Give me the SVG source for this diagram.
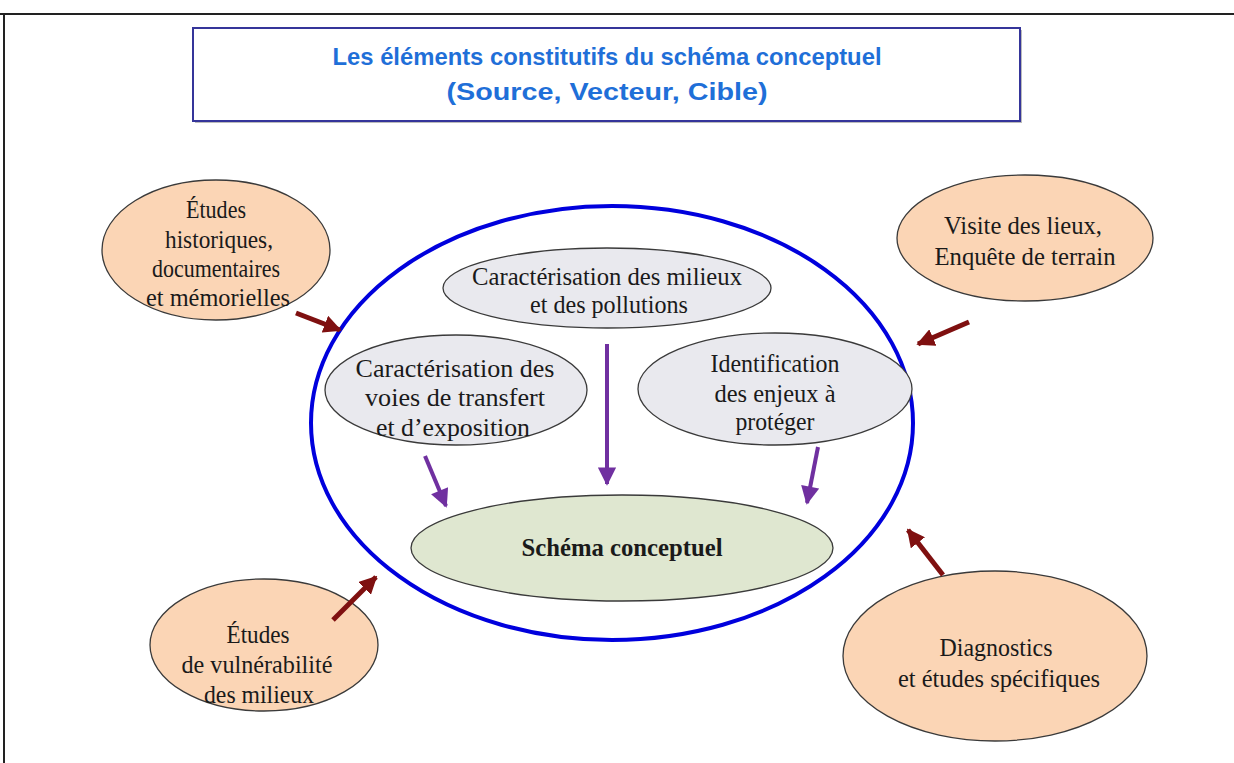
<svg xmlns="http://www.w3.org/2000/svg" width="1234" height="763" viewBox="0 0 1234 763">
<style>
.t{font-family:"Liberation Serif","Times New Roman",serif;font-size:25px;fill:#1a1a1a;text-anchor:middle}
.peach{fill:#fbd5b5;stroke:#3a3a3a;stroke-width:1.3}
.gray{fill:#e9e9ee;stroke:#3a3a3a;stroke-width:1.3}
.red{stroke:#7f1010;stroke-width:5;fill:none;marker-end:url(#ah-red)}
.pur{stroke:#7030a0;stroke-width:4;fill:none;marker-end:url(#ah-pur)}
.title{font-family:"Liberation Sans",Arial,sans-serif;font-weight:bold;font-size:24px;fill:#1f6fd8;text-anchor:middle}
</style>
<defs>
<marker id="ah-red" viewBox="0 0 10 10" refX="9" refY="5" markerWidth="3.6" markerHeight="3.6" orient="auto" markerUnits="strokeWidth">
<path d="M0,0 L10,5 L0,10 z" fill="#7f1010"/>
</marker>
<marker id="ah-pur" viewBox="0 0 10 10" refX="9" refY="5" markerWidth="5" markerHeight="4.6" orient="auto" markerUnits="strokeWidth">
<path d="M0,0 L10,5 L0,10 z" fill="#7030a0"/>
</marker>
</defs>
<rect width="1234" height="763" fill="#ffffff"/>
<g id="frame">
<line x1="0" y1="14" x2="1234" y2="14" stroke="#222" stroke-width="2"/>
<line x1="4" y1="14" x2="4" y2="763" stroke="#222" stroke-width="2"/>
</g>
<g id="title">
<rect x="195" y="30" width="827" height="93" fill="#bbbbbb"/>
<rect x="193" y="28" width="827" height="93" fill="#ffffff" stroke="#35359a" stroke-width="2"/>
<text class="title" x="607" y="65" textLength="549" lengthAdjust="spacingAndGlyphs">Les éléments constitutifs du schéma conceptuel</text>
<text class="title" x="607" y="100" textLength="321" lengthAdjust="spacingAndGlyphs">(Source, Vecteur, Cible)</text>
</g>
<g id="outer">
<ellipse cx="612" cy="423" rx="301" ry="217" fill="none" stroke="#0000dd" stroke-width="4"/>
</g>
<g id="n-historiques">
<ellipse class="peach" cx="216" cy="250" rx="114" ry="70"/>
<text class="t" x="216" y="218" textLength="60" lengthAdjust="spacingAndGlyphs">Études</text>
<text class="t" x="219" y="248" textLength="108" lengthAdjust="spacingAndGlyphs">historiques,</text>
<text class="t" x="216" y="277" textLength="128" lengthAdjust="spacingAndGlyphs">documentaires</text>
<text class="t" x="218" y="306" textLength="144" lengthAdjust="spacingAndGlyphs">et mémorielles</text>
</g>
<g id="n-visite">
<ellipse class="peach" cx="1025" cy="238" rx="128" ry="63"/>
<text class="t" x="1023" y="234" textLength="158" lengthAdjust="spacingAndGlyphs">Visite des lieux,</text>
<text class="t" x="1025" y="265" textLength="181" lengthAdjust="spacingAndGlyphs">Enquête de terrain</text>
</g>
<g id="n-vulnerabilite">
<ellipse class="peach" cx="264" cy="645" rx="114" ry="66"/>
<text class="t" x="258" y="643" textLength="63" lengthAdjust="spacingAndGlyphs">Études</text>
<text class="t" x="257" y="673" textLength="151" lengthAdjust="spacingAndGlyphs">de vulnérabilité</text>
<text class="t" x="259" y="703" textLength="110" lengthAdjust="spacingAndGlyphs">des milieux</text>
</g>
<g id="n-diagnostics">
<ellipse class="peach" cx="995" cy="656" rx="152" ry="85"/>
<text class="t" x="996" y="656" textLength="113" lengthAdjust="spacingAndGlyphs">Diagnostics</text>
<text class="t" x="999" y="687" textLength="202" lengthAdjust="spacingAndGlyphs">et études spécifiques</text>
</g>
<g id="n-milieux">
<ellipse class="gray" cx="607" cy="288" rx="164" ry="40"/>
<text class="t" x="607" y="285" textLength="270" lengthAdjust="spacingAndGlyphs">Caractérisation des milieux</text>
<text class="t" x="609" y="313" textLength="158" lengthAdjust="spacingAndGlyphs">et des pollutions</text>
</g>
<g id="n-voies">
<ellipse class="gray" cx="456" cy="390" rx="131" ry="55"/>
<text class="t" x="455" y="377" textLength="199" lengthAdjust="spacingAndGlyphs">Caractérisation des</text>
<text class="t" x="455" y="406" textLength="180" lengthAdjust="spacingAndGlyphs">voies de transfert</text>
<text class="t" x="453" y="436" textLength="154" lengthAdjust="spacingAndGlyphs">et d’exposition</text>
</g>
<g id="n-enjeux">
<ellipse class="gray" cx="775" cy="389" rx="137" ry="56"/>
<text class="t" x="775" y="372" textLength="129" lengthAdjust="spacingAndGlyphs">Identification</text>
<text class="t" x="775" y="402" textLength="121" lengthAdjust="spacingAndGlyphs">des enjeux à</text>
<text class="t" x="775" y="430" textLength="79" lengthAdjust="spacingAndGlyphs">protéger</text>
</g>
<g id="n-schema">
<ellipse cx="622" cy="548" rx="211" ry="53" fill="#dfe7d0" stroke="#3a3a3a" stroke-width="1.3"/>
<text class="t" x="622" y="556" font-weight="bold" textLength="201" lengthAdjust="spacingAndGlyphs">Schéma conceptuel</text>
</g>
<g id="connectors">
<line class="pur" x1="425" y1="456" x2="446" y2="506"/>
<line class="pur" x1="607" y1="344" x2="607" y2="484"/>
<line class="pur" x1="818" y1="447" x2="807" y2="503"/>
<line class="red" x1="296" y1="313" x2="340" y2="330"/>
<line class="red" x1="969" y1="322" x2="918" y2="344"/>
<line class="red" x1="333" y1="620" x2="376" y2="577"/>
<line class="red" x1="943" y1="575" x2="908" y2="530"/>
</g>
</svg>
